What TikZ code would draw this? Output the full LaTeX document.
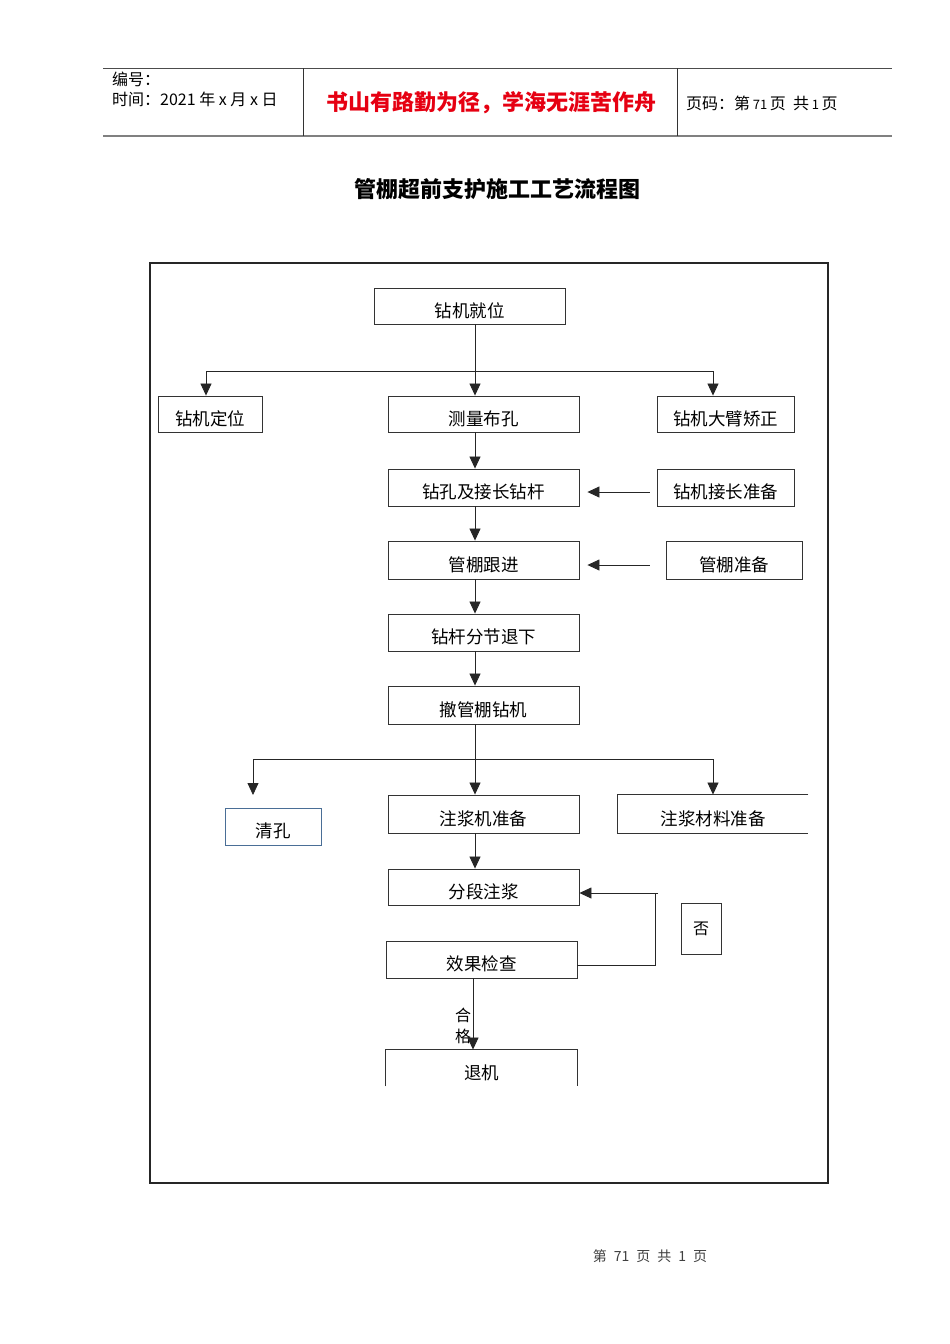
\documentclass[tikz,border=0pt]{standalone}
\usepackage{fontspec}
\setmainfont{Noto Sans CJK SC}
\usepackage{xcolor}
\definecolor{mottored}{HTML}{E60012}
\definecolor{qkblue}{HTML}{4A6E96}
\usepackage{tikz}
\usetikzlibrary{positioning,arrows.meta,calc}

\newcommand\boxfont{\fontsize{17.5pt}{20pt}\selectfont}
\newcommand\headfont{\fontsize{16pt}{18pt}\selectfont}
\newcommand\digitfont{\fontsize{13pt}{15pt}\selectfont}

\begin{document}
\begin{tikzpicture}[x=1pt, y=-1pt,
  box/.style={draw=black!80, line width=0.9pt, font=\boxfont, inner sep=0pt,
              minimum height=36pt, text height=22pt, text depth=0pt},
  arrow/.style={-{Triangle[length=12pt,width=11pt]}, line width=0.8pt, black!85},
  link/.style={line width=0.8pt, black!85},
]
  \useasboundingbox (0,0) rectangle (950,1344);
  \fill[white] (0,0) rectangle (950,1344);

  % page header
  \draw[black!70, line width=0.8pt] (103,68) -- (892,68);
  \draw[black!50, line width=1.8pt] (103,136) -- (892,136);
  \draw[black!80, line width=0.8pt] (303,68) -- (303,136);
  \draw[black!80, line width=0.8pt] (677,68) -- (677,136);
  \node[anchor=west, font=\headfont, inner sep=0pt] (bianhao) at (112,79) {编号：};
  \node[anchor=west, font=\headfont, inner sep=0pt] (shijian) at (112,99)
    {时间：2021\ 年\ x\ 月\ x\ 日};
  \node[font=\fontsize{22pt}{24pt}\selectfont\bfseries, text=mottored, inner sep=0pt]
    (motto) at (491,103) {书山有路勤为径，学海无涯苦作舟};
  \node[anchor=west, font=\headfont, inner sep=0pt] (yema) at (686,103)
    {页码：第\,{\digitfont 71}\,页\ \ 共\,{\digitfont 1}\,页};

  % title and frame
  \node[font=\fontsize{22pt}{24pt}\selectfont\bfseries, inner sep=0pt] (title) at (497,189)
    {管棚超前支护施工工艺流程图};
  \draw[black!85, line width=2pt] (150,263) rectangle (828,1183);

  % flow boxes
  \node[box, minimum width=191pt] (jiuwei) at (469.5,306) {钻机就位};
  \node[box, minimum width=104pt] (dingwei) at (210,414) {钻机定位};
  \node[box, minimum width=191pt] (celiang) at (483.5,414) {测量布孔};
  \node[box, minimum width=137pt] (jiaozheng) at (725.5,414) {钻机大臂矫正};
  \node[box, minimum width=191pt, minimum height=37pt] (zuankong) at (483.5,487.5) {钻孔及接长钻杆};
  \node[box, minimum width=137pt, minimum height=37pt] (jiechang) at (725.5,487.5) {钻机接长准备};
  \node[box, minimum width=191pt, minimum height=38pt] (genjin) at (483.5,560) {管棚跟进};
  \node[box, minimum width=136pt, minimum height=38pt] (guanpeng) at (734,560) {管棚准备};
  \node[box, minimum width=191pt, minimum height=37pt] (tuixia) at (483.5,632.5) {钻杆分节退下};
  \node[box, minimum width=191pt, minimum height=38pt] (chechu) at (483.5,705) {撤管棚钻机};
  \node[box, draw=qkblue, minimum width=96pt, minimum height=37pt] (qingkong) at (273,826.5) {清孔};
  \node[box, minimum width=191pt, minimum height=38pt] (zhujiangji) at (483.5,814) {注浆机准备};
  \node[box, draw=none, minimum width=190pt, minimum height=38pt] (cailiao) at (713,814) {注浆材料准备};
  \draw[black!80, line width=0.9pt] (cailiao.north east) -- (cailiao.north west)
    -- (cailiao.south west) -- (cailiao.south east);
  \node[box, minimum width=191pt] (fenduan) at (483.5,887) {分段注浆};
  \node[draw=black!80, line width=0.9pt, font=\fontsize{16pt}{18pt}\selectfont,
        minimum width=40pt, minimum height=51pt, inner sep=0pt] (fou) at (701,928.5) {否};
  \node[box, minimum width=191pt, minimum height=37pt] (jiancha) at (481.5,959.5) {效果检查};
  \node[box, draw=none, minimum width=191pt] (tuiji) at (481.5,1068) {退机};
  \draw[black!80, line width=0.9pt] (tuiji.south west) -- (tuiji.north west)
    -- (tuiji.north east) -- (tuiji.south east);
  \node[font=\headfont, align=center, inner sep=0pt] (hege) at (463,1026)
    {合\\[3pt]格};

  % connectors
  \coordinate (col) at (475,0);
  \coordinate (col2) at (473,0);
  \coordinate (fork1l) at (206,371);
  \coordinate (fork1r) at (713,371);
  \coordinate (fork2l) at (253,759);
  \coordinate (fork2r) at (713,759);
  \coordinate (qkend) at (253,795);
  \coordinate (fb) at (655,893);

  \draw[arrow] (jiuwei.south -| col) -- (celiang.north -| col);
  \draw[link] (fork1l) -- (fork1r);
  \draw[arrow] (fork1l) -- (dingwei.north -| fork1l);
  \draw[arrow] (fork1r) -- (jiaozheng.north -| fork1r);
  \draw[arrow] (celiang.south -| col) -- (zuankong.north -| col);
  \draw[arrow] ([xshift=-7pt,yshift=-4.5pt]jiechang.west) -- ([xshift=8pt,yshift=-4.5pt]zuankong.east);
  \draw[arrow] (zuankong.south -| col) -- (genjin.north -| col);
  \draw[arrow] ([xshift=-16pt,yshift=-5pt]guanpeng.west) -- ([xshift=8pt,yshift=-5pt]genjin.east);
  \draw[arrow] (genjin.south -| col) -- (tuixia.north -| col);
  \draw[arrow] (tuixia.south -| col) -- (chechu.north -| col);
  \draw[arrow] (chechu.south -| col) -- (zhujiangji.north -| col);
  \draw[link] (fork2l) -- (fork2r);
  \draw[arrow] (fork2l) -- (qkend);
  \draw[arrow] (fork2r) -- (cailiao.north -| fork2r);
  \draw[arrow] (zhujiangji.south -| col) -- (fenduan.north -| col);
  \draw[link] ([yshift=-6pt]jiancha.east) -| (fb);
  \draw[arrow] ([xshift=3pt]fb) -- (fenduan.east |- fb);
  \draw[arrow] (jiancha.south -| col2) -- (tuiji.north -| col2);

  % page footer
  \node[font=\fontsize{14pt}{16pt}\selectfont, text=black!75, inner sep=0pt] (footer) at (650,1256)
    {第\enspace 71\enspace 页\enspace 共\enspace 1\enspace 页};
\end{tikzpicture}
\end{document}
